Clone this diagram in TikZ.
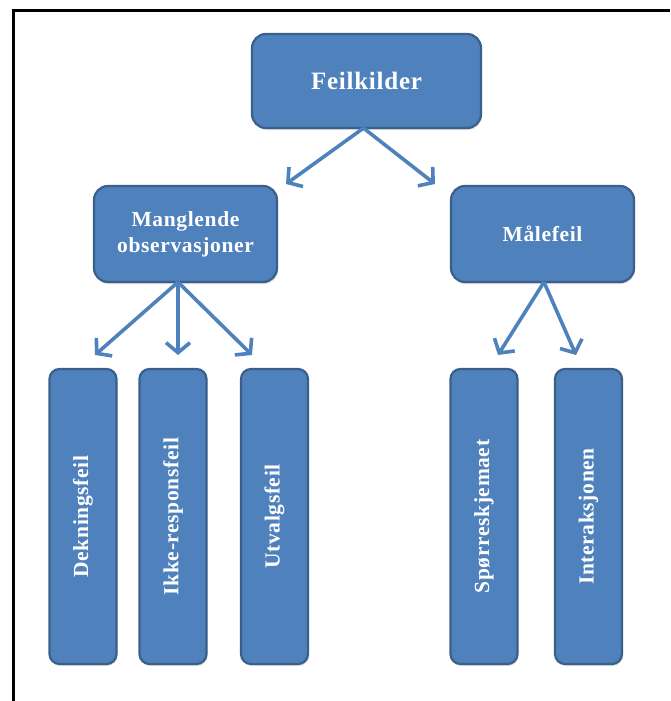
\documentclass[tikz,border=0pt]{standalone}
\usepackage{fontspec}
\setmainfont{Liberation Serif}[LetterSpace=3]
\usetikzlibrary{arrows.meta,calc,shadows}
\definecolor{boxfill}{HTML}{4F81BD}
\definecolor{boxline}{HTML}{3A5F8B}
\definecolor{arrowc}{HTML}{4F81BD}
\tikzset{
  x=1pt,y=1pt,
  box/.style={draw=boxline, line width=2.2pt, fill=boxfill, rounded corners=14pt,
    text=white, font=\bfseries, align=center, inner sep=0pt,
    drop shadow={opacity=0.25, shadow xshift=1pt, shadow yshift=-2pt}},
  vbox/.style={box, rounded corners=10pt, rotate=90, minimum width=295pt, minimum height=67pt},
  conn/.style={draw=arrowc, line width=3.6pt, -{Straight Barb[length=10pt,width=24pt,line width=3.6pt]}},
  midfont/.style={font=\bfseries\fontsize{21.5}{26}\selectfont},
}
\begin{document}
\begin{tikzpicture}
\useasboundingbox (0,0) rectangle (670,-701);
% frame
\draw[line width=3pt] (13.5,-701) -- (13.5,-10.5) -- (670,-10.5);
% nodes
\node[box, minimum width=229pt, minimum height=94pt, font=\bfseries\fontsize{25}{29}\selectfont] (fk) at (366.5,-81) {Feilkilder};
\node[box, minimum width=183pt, minimum height=96pt, midfont] (mo) at (185.5,-234) {Manglende\\observasjoner};
\node[box, minimum width=183pt, minimum height=96pt, midfont] (mf) at (542.5,-234) {Målefeil};
\node[vbox, midfont] (dk) at (83,-516.5) {Dekningsfeil};
\node[vbox, midfont] (ik) at (173,-516.5) {Ikke-responsfeil};
\node[vbox, midfont] (ut) at (274.5,-516.5) {Utvalgsfeil};
\node[vbox, midfont] (sp) at (484,-516.5) {Spørreskjemaet};
\node[vbox, midfont] (in) at (588.5,-516.5) {Interaksjonen};
% arrow start/end points
\coordinate (fks) at ($(fk.south)+(-3,1)$);
\coordinate (tmo) at (286,-184);
\coordinate (tmf) at (435,-184);
\coordinate (mos) at ($(mo.south)+(-7.5,1)$);
\coordinate (tdk) at (95,-355);
\coordinate (tik) at (178,-355);
\coordinate (tut) at (252,-355);
\coordinate (mfs) at ($(mf.south)+(1.5,1)$);
\coordinate (tsp) at (498,-355);
\coordinate (tin) at (576,-355);
% connectors
\draw[conn] (fks) -- (tmo);
\draw[conn] (fks) -- (tmf);
\draw[conn] (mos) -- (tdk);
\draw[conn] (mos) -- (tik);
\draw[conn] (mos) -- (tut);
\draw[conn] (mfs) -- (tsp);
\draw[conn] (mfs) -- (tin);
\end{tikzpicture}
\end{document}
